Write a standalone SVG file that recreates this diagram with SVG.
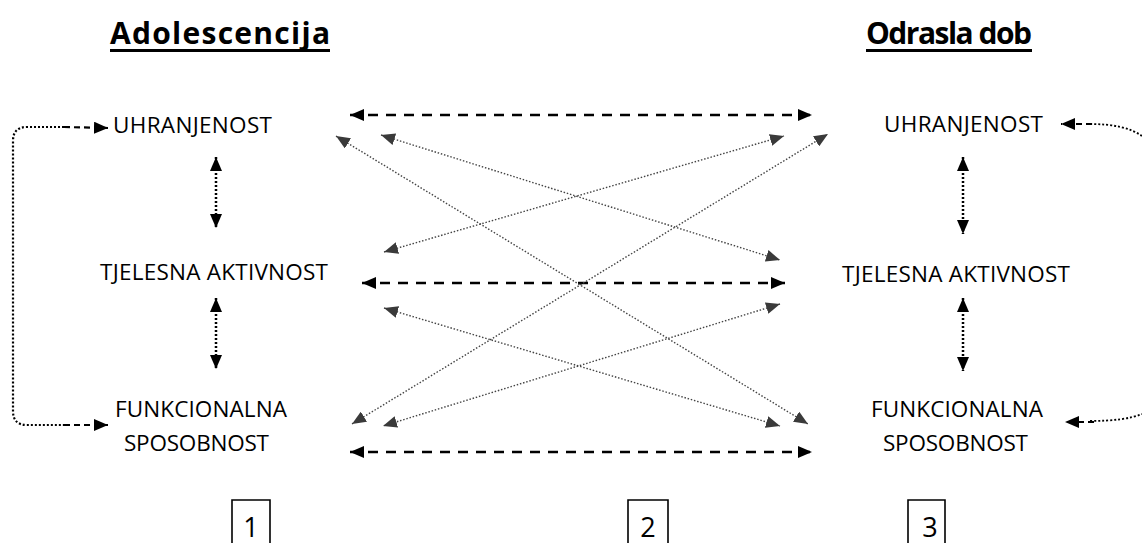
<svg xmlns="http://www.w3.org/2000/svg" width="1142" height="543" viewBox="0 0 1142 543">
<defs>
<style>
.t{font-family:"Open Sans","Liberation Sans",sans-serif;font-size:22.5px;fill:#000}
.h{font-family:"Open Sans","Liberation Sans",sans-serif;font-size:30px;font-weight:bold;fill:#000}
.n{font-family:"Open Sans","Liberation Sans",sans-serif;font-size:27px;fill:#000;text-anchor:middle}
.dash{stroke:#000;stroke-width:2.5;stroke-dasharray:10 8;fill:none}
.vdot{stroke:#000;stroke-width:2.5;stroke-dasharray:2 2;fill:none}
.gdot{stroke:#444;stroke-width:1.4;stroke-dasharray:1.5 1.8;fill:none}
.loop{stroke:#000;stroke-width:2.2;stroke-dasharray:2 2;fill:none}
.box{stroke:#000;stroke-width:1.6;fill:none}
</style>
<marker id="bk" viewBox="0 0 14 12" refX="14" refY="6" markerWidth="14" markerHeight="12" markerUnits="userSpaceOnUse" orient="auto-start-reverse"><path d="M0,0 L14,6 L0,12 z" fill="#000"/></marker>
<marker id="gr" viewBox="0 0 14 12" refX="14" refY="6" markerWidth="14" markerHeight="12" markerUnits="userSpaceOnUse" orient="auto-start-reverse"><path d="M0,0 L14,6 L0,12 z" fill="#3a3a3a"/></marker>
</defs>
<g id="titles">
<text class="h" x="110" y="44" textLength="220">Adolescencija</text>
<rect x="110" y="49" width="220" height="3" fill="#000"/>
<text class="h" x="866" y="44" textLength="166">Odrasla dob</text>
<rect x="866" y="49" width="166" height="3" fill="#000"/>
</g>
<g id="connectors">
<line class="dash" x1="350" y1="115" x2="812" y2="115" marker-start="url(#bk)" marker-end="url(#bk)"/>
<line class="dash" x1="362" y1="283" x2="785" y2="283" marker-start="url(#bk)" marker-end="url(#bk)"/>
<line class="dash" x1="350" y1="452" x2="812" y2="452" marker-start="url(#bk)" marker-end="url(#bk)"/>
<line class="vdot" x1="216" y1="157" x2="216" y2="228" marker-start="url(#bk)" marker-end="url(#bk)"/>
<line class="vdot" x1="216" y1="298" x2="216" y2="369" marker-start="url(#bk)" marker-end="url(#bk)"/>
<line class="vdot" x1="963" y1="157" x2="963" y2="234" marker-start="url(#bk)" marker-end="url(#bk)"/>
<line class="vdot" x1="963" y1="298" x2="963" y2="371" marker-start="url(#bk)" marker-end="url(#bk)"/>
<line class="gdot" x1="336" y1="136" x2="808" y2="424" marker-start="url(#gr)" marker-end="url(#gr)"/>
<line class="gdot" x1="381" y1="135" x2="780" y2="260" marker-start="url(#gr)" marker-end="url(#gr)"/>
<line class="gdot" x1="384" y1="252" x2="784" y2="136" marker-start="url(#gr)" marker-end="url(#gr)"/>
<line class="gdot" x1="352" y1="424" x2="828" y2="134" marker-start="url(#gr)" marker-end="url(#gr)"/>
<line class="gdot" x1="384" y1="308" x2="780" y2="426" marker-start="url(#gr)" marker-end="url(#gr)"/>
<line class="gdot" x1="780" y1="304" x2="383" y2="426" marker-start="url(#gr)" marker-end="url(#gr)"/>
<path class="loop" d="M64,127 L27,127 Q13,127 13,141 L13,411 Q13,425 27,425 L64,425"/>
<path class="dash" style="stroke-width:2.2;stroke-dasharray:6 4" d="M64,127 L108,128" marker-end="url(#bk)"/>
<path class="dash" style="stroke-width:2.2;stroke-dasharray:6 4" d="M64,425 L108,425" marker-end="url(#bk)"/>
<path class="loop" style="stroke-width:1.8" d="M1090,124 Q1125,124 1142,136"/>
<path class="loop" style="stroke-width:1.8" d="M1090,421 Q1125,421 1142,414"/>
<path class="dash" style="stroke-width:2.2;stroke-dasharray:6 4" d="M1092,124 L1061,124" marker-end="url(#bk)"/>
<path class="dash" style="stroke-width:2.2;stroke-dasharray:6 4" d="M1094,422 L1065,422" marker-end="url(#bk)"/>
</g>
<g id="node-adol-uhranjenost"><text class="t" x="113" y="133" textLength="159">UHRANJENOST</text></g>
<g id="node-adol-aktivnost"><text class="t" x="100" y="280" textLength="228">TJELESNA AKTIVNOST</text></g>
<g id="node-adol-funkcionalna"><text class="t" x="115" y="417" textLength="172">FUNKCIONALNA</text><text class="t" x="124" y="451" textLength="145">SPOSOBNOST</text></g>
<g id="node-odr-uhranjenost"><text class="t" x="884" y="132" textLength="159">UHRANJENOST</text></g>
<g id="node-odr-aktivnost"><text class="t" x="842" y="282" textLength="228">TJELESNA AKTIVNOST</text></g>
<g id="node-odr-funkcionalna"><text class="t" x="871" y="417" textLength="172">FUNKCIONALNA</text><text class="t" x="883" y="451" textLength="145">SPOSOBNOST</text></g>
<g id="box-1"><path class="box" d="M232,545 L232,500 L270,500 L270,545"/><text class="n" x="251" y="537">1</text></g>
<g id="box-2"><path class="box" d="M628,545 L628,500 L668,500 L668,545"/><text class="n" x="648" y="537">2</text></g>
<g id="box-3"><path class="box" d="M908,545 L908,500 L945,500 L945,545"/><text class="n" x="930" y="537">3</text></g>
</svg>
